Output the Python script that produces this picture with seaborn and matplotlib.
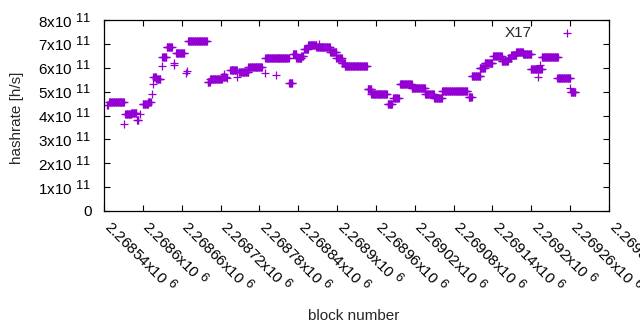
import numpy as np
import pandas as pd
import matplotlib
matplotlib.use("Agg")
import matplotlib.pyplot as plt
import matplotlib.transforms as mtransforms
import seaborn as sns
try:
    import matplotlib._mathtext as _mt
    _mt.SHRINK_FACTOR = 0.85
except Exception:
    pass

# ---- data (runs of blocks sharing one hashrate, in 1e11 h/s)
seg_start = [2268545, 2268548, 2268571, 2268573, 2268582, 2268591, 2268595, 2268600,
             2268608, 2268614, 2268616, 2268616, 2268621, 2268630, 2268630, 2268637,
             2268648, 2268648, 2268651, 2268667, 2268668, 2268670, 2268700, 2268704,
             2268722, 2268725, 2268730, 2268735, 2268746, 2268748, 2268763, 2268788,
             2268789, 2268806, 2268826, 2268832, 2268837, 2268845, 2268849, 2268855,
             2268868, 2268872, 2268876, 2268889, 2268899, 2268907, 2268912, 2268947,
             2268953, 2268978, 2268987, 2268997, 2269015, 2269036, 2269050, 2269062,
             2269103, 2269108, 2269120, 2269128, 2269141, 2269154, 2269164, 2269169,
             2269177, 2269187, 2269199, 2269211, 2269213, 2269216, 2269240, 2269260,
             2269261]
seg_end = [2268546, 2268571, 2268571, 2268582, 2268590, 2268593, 2268595, 2268608,
           2268612, 2268614, 2268616, 2268620, 2268627, 2268630, 2268636, 2268645,
           2268648, 2268648, 2268664, 2268667, 2268668, 2268699, 2268703, 2268722,
           2268728, 2268725, 2268730, 2268745, 2268746, 2268763, 2268784, 2268788,
           2268825, 2268806, 2268831, 2268837, 2268845, 2268848, 2268855, 2268868,
           2268876, 2268872, 2268889, 2268899, 2268907, 2268912, 2268946, 2268953,
           2268977, 2268985, 2268995, 2269015, 2269036, 2269049, 2269062, 2269101,
           2269108, 2269121, 2269128, 2269140, 2269154, 2269164, 2269169, 2269177,
           2269187, 2269200, 2269216, 2269211, 2269213, 2269241, 2269260, 2269260,
           2269268]
seg_hashrate = [4.45, 4.55, 3.64, 4.08, 4.12, 3.83, 4.05, 4.47,
                4.58, 4.90, 5.31, 5.63, 5.52, 6.06, 6.44, 6.86,
                6.12, 6.21, 6.60, 5.79, 5.88, 7.10, 5.39, 5.52,
                5.63, 5.74, 5.56, 5.90, 5.63, 5.81, 6.04, 5.79,
                6.40, 5.70, 5.35, 6.56, 6.40, 6.50, 6.79, 6.95,
                6.86, 6.98, 6.86, 6.65, 6.40, 6.19, 6.06, 5.11,
                4.90, 4.47, 4.75, 5.32, 5.14, 4.90, 4.75, 5.04,
                4.79, 5.65, 6.00, 6.19, 6.49, 6.28, 6.40, 6.53,
                6.67, 6.56, 5.93, 5.60, 6.12, 6.44, 5.56, 5.17,
                5.00]

x_ticks = [2268540 + 60 * k for k in range(14)]
x_tick_labels = ["2.26854", "2.2686", "2.26866", "2.26872", "2.26878", "2.26884",
                 "2.2689", "2.26896", "2.26902", "2.26908", "2.26914", "2.2692",
                 "2.26926", "2.26932"]
y_ticks = [0, 1e11, 2e11, 3e11, 4e11, 5e11, 6e11, 7e11, 8e11]
y_tick_labels = ["0", "1x10 $^{11}$", "2x10 $^{11}$", "3x10 $^{11}$", "4x10 $^{11}$",
                 "5x10 $^{11}$", "6x10 $^{11}$", "7x10 $^{11}$", "8x10 $^{11}$"]

blocks, rates = [], []
for s, e, v in zip(seg_start, seg_end, seg_hashrate):
    b = np.arange(s, e + 1)
    blocks.extend(b)
    rates.extend([v * 1e11] * len(b))
df = pd.DataFrame({"block": blocks, "hashrate": rates})

sns.set_theme(style="ticks")
plt.rcParams["font.family"] = ["Liberation Sans", "DejaVu Sans"]
plt.rcParams["mathtext.default"] = "regular"
FS = 11

fig = plt.figure(figsize=(6.4, 3.3), dpi=100)
ax = fig.add_axes([104 / 640, 1 - 211 / 330, 505 / 640, 191 / 330])

color = "#9400d3"
sns.scatterplot(data=df, x="block", y="hashrate", marker="+", s=30, color=color,
                linewidth=0.9, ax=ax, label="X17")

ax.set_xlim(2268540, 2269320)
ax.set_ylim(0, 8e11)

ax.tick_params(direction="in", length=4, width=0.8, top=True, right=True,
               colors="black")
ax.tick_params(axis="y", pad=9)
ax.tick_params(axis="x", pad=8)

ax.set_xticks(x_ticks)
ax.set_xticklabels([l + "x10 $^{6}$" for l in x_tick_labels], fontsize=FS,
                   rotation=-45, ha="left", va="center_baseline", rotation_mode="anchor")
ax.set_yticks(y_ticks)
ax.set_yticklabels(y_tick_labels, fontsize=FS, va="center_baseline")

# shift rotated x tick labels slightly right (after tick_params, which resets transforms)
off = mtransforms.ScaledTranslation(4 / 100, 0, fig.dpi_scale_trans)
for t in ax.get_xticklabels():
    t.set_transform(t.get_transform() + off)

for sp in ax.spines.values():
    sp.set_visible(True)
    sp.set_color("black")
    sp.set_linewidth(0.9)

ax.set_xlabel("block number", fontsize=FS)
ax.set_ylabel("hashrate [h/s]", fontsize=FS)

leg = ax.legend(loc="upper right", markerfirst=False, frameon=False, fontsize=FS,
                handlelength=2.0, handletextpad=1.3, borderpad=0, borderaxespad=0,
                bbox_to_anchor=(582 / 640, 1 - 26 / 330), bbox_transform=fig.transFigure)

ax.xaxis.set_label_coords(354 / 640, 21 / 330, transform=fig.transFigure)
ax.yaxis.set_label_coords(24 / 640, 1 - 118 / 330, transform=fig.transFigure)

fig.savefig("out.png", dpi=100)
